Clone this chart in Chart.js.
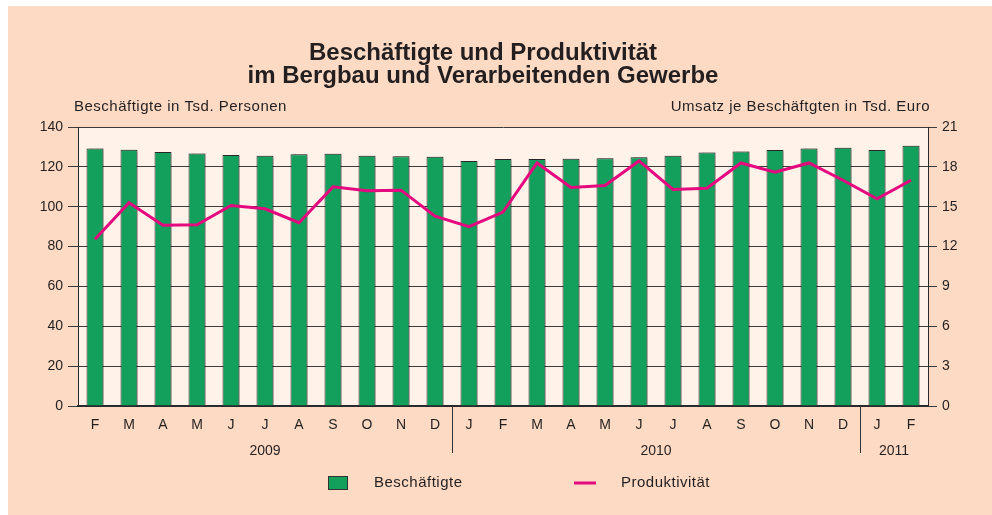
<!DOCTYPE html>
<html lang="de">
<head>
<meta charset="utf-8">
<title>Beschäftigte und Produktivität</title>
<script src="https://cdn.jsdelivr.net/npm/chart.js@4.4.1/dist/chart.umd.min.js"></script>
<style>
  html, body { margin: 0; padding: 0; background: #ffffff; }
  #panel {
    position: absolute; left: 8px; top: 6px;
    width: 984px; height: 509px;
    background: #fddac3;
  }
</style>
</head>
<body>
<div id="panel"><canvas id="chart"></canvas></div>
<script>
// Monate Feb 2009 bis Feb 2011
const months = ['F', 'M', 'A', 'M', 'J', 'J', 'A', 'S', 'O', 'N', 'D',
  'J', 'F', 'M', 'A', 'M', 'J', 'J', 'A', 'S', 'O', 'N', 'D',
  'J', 'F'];
const yearLabels = ['2009', '2010', '2011'];
const yearStart = [0, 11, 23];

// Beschäftigte in Tsd. Personen (linke Achse)
const beschaeftigte = [129.3, 128.6, 127.5, 126.8, 126.0, 125.6, 126.3, 126.6, 125.6, 125.4, 125.1,
  123.0, 124.0, 124.0, 124.1, 124.3, 124.8, 125.6, 127.3, 127.8, 128.5, 129.3, 129.6,
  128.5, 130.6];

// Umsatz je Beschäftigten in Tsd. Euro (rechte Achse)
const produktivitaet = [12.55, 15.3, 13.6, 13.65, 15.1, 14.85, 13.8, 16.5, 16.2, 16.25, 14.3,
  13.5, 14.6, 18.3, 16.45, 16.6, 18.45, 16.3, 16.4, 18.3, 17.6, 18.3, 17.0,
  15.6, 17.0];

const leftTicks = [0, 140, 20];
const rightTicks = [0, 21, 3];

const TXT = '#231f20';
const FONT = "'Liberation Sans', Arial, sans-serif";
Chart.defaults.font.family = FONT;
Chart.defaults.color = TXT;

const decoPlugin = {
  id: 'deco',
  beforeDraw(chart) {
    const { ctx, chartArea: a } = chart;
    ctx.save();
    ctx.fillStyle = '#fef2e9';
    ctx.fillRect(a.left, a.top, a.right - a.left, a.bottom - a.top);
    ctx.restore();
  },
  beforeDatasetDraw(chart, args) {
    if (args.index === 0) {
      chart.ctx.save();
      chart.ctx.shadowColor = 'rgba(0,0,0,0.22)';
      chart.ctx.shadowOffsetX = 2;
      chart.ctx.shadowOffsetY = -1;
      chart.ctx.shadowBlur = 1;
    }
  },
  afterDatasetDraw(chart, args) {
    if (args.index === 0) chart.ctx.restore();
  },
  afterDraw(chart) {
    const { ctx, chartArea: a } = chart;
    const x = chart.scales.x;
    ctx.save();
    ctx.fillStyle = TXT;
    ctx.font = '15px ' + FONT;
    ctx.letterSpacing = '0.5px';
    ctx.textBaseline = 'middle';

    // Achsentitel
    ctx.textAlign = 'left';
    ctx.fillText('Beschäftigte in Tsd. Personen', a.left - 4, a.top - 20);
    ctx.textAlign = 'right';
    ctx.fillText('Umsatz je Beschäftgten in Tsd. Euro', a.right + 2, a.top - 20);

    // Legende
    const ds = chart.data.datasets;
    const ly = a.bottom + 77;
    ctx.fillStyle = ds[0].backgroundColor;
    ctx.fillRect(320, ly - 7, 20, 14);
    ctx.strokeStyle = '#333';
    ctx.lineWidth = 1;
    ctx.strokeRect(320.5, ly - 6.5, 19, 13);
    ctx.fillStyle = TXT;
    ctx.textAlign = 'left';
    ctx.fillText(ds[0].label, 366, ly);

    ctx.strokeStyle = ds[1].borderColor;
    ctx.lineWidth = 3;
    ctx.beginPath();
    ctx.moveTo(566, ly);
    ctx.lineTo(588, ly);
    ctx.stroke();
    ctx.fillText(ds[1].label, 613, ly);

    // Jahre unter den Monaten
    ctx.font = '14px ' + FONT;
    ctx.letterSpacing = '0px';
    ctx.textAlign = 'center';
    yearLabels.forEach((y, i) => {
      const from = yearStart[i];
      const to = (i + 1 < yearStart.length ? yearStart[i + 1] : months.length) - 1;
      const cx = (x.getPixelForValue(from) + x.getPixelForValue(to)) / 2;
      ctx.fillText(y, cx, a.bottom + 45);
    });
    ctx.restore();
  }
};

new Chart(document.getElementById('chart'), {
  type: 'bar',
  data: {
    labels: months,
    datasets: [
      {
        label: 'Beschäftigte',
        data: beschaeftigte,
        yAxisID: 'y',
        backgroundColor: '#12a05c',
        borderColor: '#2a2a2a',
        borderWidth: 1,
        borderSkipped: 'bottom',
        categoryPercentage: 1,
        barPercentage: 0.5,
        order: 1
      },
      {
        type: 'line',
        label: 'Produktivität',
        data: produktivitaet,
        yAxisID: 'y1',
        borderColor: '#e5097f',
        backgroundColor: '#e5097f',
        borderWidth: 3,
        pointRadius: 0,
        tension: 0,
        order: 0
      }
    ]
  },
  options: {
    responsive: true,
    maintainAspectRatio: false,
    animation: false,
    layout: { padding: { left: 0, right: 34, top: 0, bottom: 0 } },
    plugins: {
      legend: { display: false },
      tooltip: { enabled: false },
      title: {
        display: true,
        text: ['Beschäftigte und Produktivität', 'im Bergbau und Verarbeitenden Gewerbe'],
        font: { size: 24, weight: 'bold', lineHeight: 0.96 },
        color: TXT,
        padding: { top: 36, bottom: 39 }
      }
    },
    scales: {
      x: {
        grid: {
          offset: true,
          drawOnChartArea: false,
          drawTicks: true,
          tickLength: 47,
          lineWidth: 1,
          color: ctx => (yearStart.includes(ctx.index) && ctx.index > 0) ? '#333' : 'rgba(0,0,0,0)'
        },
        border: { display: true, color: '#2a2a2a', width: 2 },
        ticks: { padding: -36, font: { size: 14 }, color: TXT, maxRotation: 0, autoSkip: false },
        afterFit: s => { s.height = 109; }
      },
      y: {
        position: 'left',
        min: leftTicks[0],
        max: leftTicks[1],
        ticks: { stepSize: leftTicks[2], padding: 5, font: { size: 14 }, color: TXT },
        grid: { color: '#3a3a3a', lineWidth: 1, tickLength: 10, tickColor: '#3a3a3a' },
        border: { display: true, color: '#2a2a2a', width: 1 },
        afterFit: s => { s.width = 70; }
      },
      y1: {
        position: 'right',
        min: rightTicks[0],
        max: rightTicks[1],
        ticks: { stepSize: rightTicks[2], padding: 5, font: { size: 14 }, color: TXT },
        grid: { drawOnChartArea: false, tickLength: 9, tickColor: '#3a3a3a' },
        border: { display: true, color: '#2a2a2a', width: 1 },
        afterFit: s => { s.width = 30; }
      }
    }
  },
  plugins: [decoPlugin]
});
</script>
</body>
</html>
